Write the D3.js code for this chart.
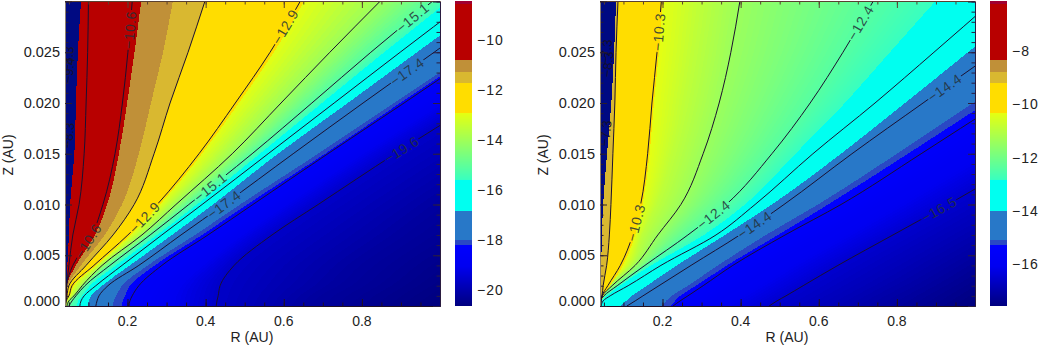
<!DOCTYPE html>
<html>
<head>
<meta charset="utf-8">
<script src="https://cdn.jsdelivr.net/npm/d3@7"></script>
<style>
  html, body { margin: 0; background: #fff; }
  text { font-family: "Liberation Sans", Arial, sans-serif; fill: #222; }
</style>
</head>
<body>
<svg id="chart" width="1040" height="346"></svg>
<script>
var zGrid = [0, 0.0005, 0.001, 0.002, 0.004, 0.007, 0.010, 0.015, 0.020, 0.025, 0.030];

// left panel: R (AU) of each level at the zGrid heights
var leftRange = [-20.64, -8.44];
var leftLevels = [-20.64, -20.2, -19.6, -19, -18.5, -18.2, -18, -17.4, -16.85, -16.3, -15.6, -15.1, -14, -12.92, -12.9, -11.74, -11.3, -10.8, -10.6, -9.4];
var leftCurves = [
  [1.00, 1.02, 1.04, 1.08, 1.16, 1.28, 1.40, 1.60, 1.80, 2.00, 2.20],
  [.667, .680, .693, .739, .795, .910, 1.013, 1.218, 1.425, 1.640, 1.845],
  [.427, .429, .432, .437, .473, .570, .688, .885, 1.092, 1.297, 1.502],
  [.309, .311, .314, .329, .386, .488, .601, .795, 1.000, 1.195, 1.399],
  [.204, .206, .212, .229, .288, .406, .521, .713, .908, 1.100, 1.294],
  [.186, .188, .194, .206, .270, .391, .506, .706, .898, 1.092, 1.287],
  [.163, .165, .171, .186, .252, .373, .488, .688, .882, 1.077, 1.271],
  [.119, .122, .127, .150, .229, .337, .447, .624, .803, .985, 1.164],
  [.099, .101, .107, .135, .206, .314, .419, .585, .764, .941, 1.120],
  [.078, .081, .089, .119, .186, .288, .391, .560, .729, .898, 1.069],
  [.071, .073, .084, .104, .171, .276, .378, .539, .698, .857, 1.020],
  [.050, .058, .068, .091, .155, .258, .357, .519, .672, .823, .980],
  [.045, .050, .063, .084, .135, .237, .324, .468, .593, .718, .846],
  [.041, .044, .052, .062, .120, .208, .283, .391, .485, .575, .652],
  [.041, .043, .050, .058, .114, .201, .276, .383, .476, .565, .642],
  [.041, .043, .045, .050, .094, .163, .217, .268, .309, .355, .398],
  [.041, .043, .044, .047, .081, .142, .186, .229, .260, .291, .316],
  [.041, .043, .044, .045, .068, .117, .148, .178, .199, .218, .235],
  [.040, .041, .043, .044, .060, .109, .137, .168, .187, .201, .212],
  [.040, .041, .041, .044, .050, .060, .076, .089, .094, .098, .100]
];
var leftStripe = [.040, .041, .043, .044, .046, .050, .053, .064, .068, .073, .081];
var leftContours = [-19.6, -18.5, -17.4, -16.3, -15.1, -14, -12.9, -11.74, -10.6, -9.4];
var leftLabelLevels = [-10.6, -10.6, -12.9, -12.9, -15.1, -15.1, -17.4, -17.4, -19.6];
var leftLabelZ = [.0272, .0064, .0275, .0087, .0284, .0117, .0231, .0100, .0154];
var leftLabelText = ["−10.6", "−10.6", "−12.9", "−12.9", "−15.1", "−15.1", "−17.4", "−17.4", "−19.6"];
var leftStrayR = [.048, .050, .049];
var leftStrayZ = [.0243, .0232, .0168];
var leftStrayText = ["−8.3", "−9.4", "−8.3"];
var leftBarTicks = [-10, -12, -14, -16, -18, -20];

// right panel
var rightRange = [-17.56, -6.14];
var rightLevels = [-17.56, -17, -16.5, -16, -15.5, -15.27, -15.09, -14.4, -14, -13.4, -12.84, -12.4, -11.9, -11.4, -10.9, -10.33, -10.3, -9.22];
var rightCurves = [
  [1.00, 1.02, 1.04, 1.08, 1.16, 1.28, 1.40, 1.60, 1.80, 2.00, 2.20],
  [.726, .749, .770, .821, .910, 1.046, 1.179, 1.397, 1.614, 1.832, 2.062],
  [.473, .493, .516, .560, .649, .790, .931, 1.154, 1.384, 1.614, 1.845],
  [.352, .373, .393, .437, .521, .660, .795, 1.013, 1.230, 1.448, 1.666],
  [.227, .245, .265, .304, .380, .514, .657, .862, 1.064, 1.269, 1.474],
  [.222, .232, .245, .286, .365, .496, .624, .828, 1.028, 1.218, 1.422],
  [.199, .209, .224, .265, .342, .465, .598, .800, .995, 1.192, 1.384],
  [.109, .130, .150, .191, .273, .398, .511, .685, .867, 1.051, 1.243],
  [.091, .107, .122, .160, .237, .360, .480, .657, .821, .982, 1.141],
  [.043, .048, .066, .112, .196, .337, .437, .585, .744, .895, 1.044],
  [.043, .045, .058, .091, .171, .306, .411, .540, .667, .782, .898],
  [.040, .041, .050, .084, .155, .265, .363, .480, .578, .662, .739],
  [.041, .043, .048, .078, .148, .224, .301, .393, .462, .521, .565],
  [.041, .043, .046, .071, .130, .188, .247, .304, .345, .375, .398],
  [.042, .044, .050, .061, .117, .148, .186, .227, .258, .281, .299],
  [.041, .044, .048, .066, .099, .130, .149, .167, .178, .191, .201],
  [.041, .043, .045, .060, .092, .124, .144, .162, .173, .186, .197],
  [.040, .041, .045, .048, .057, .064, .068, .073, .078, .081, .086]
];
var rightStripe = [.040, .040, .041, .041, .043, .045, .048, .058, .069, .076, .081];
var rightContours = [-16.5, -15.5, -14.4, -13.4, -12.4, -11.4, -10.3, -9.22];
var rightLabelLevels = [-10.3, -10.3, -12.4, -12.4, -14.4, -14.4, -16.5];
var rightLabelZ = [.027, .0082, .0279, .009, .0215, .008, .0095];
var rightLabelText = ["−10.3", "−10.3", "−12.4", "−12.4", "−14.4", "−14.4", "−16.5"];
var rightStrayR = [.056, .060, .054];
var rightStrayZ = [.0250, .0238, .0170];
var rightStrayText = ["−7.3", "−8.3", "−7.3"];
var rightBarTicks = [-8, -10, -12, -14, -16];

// shared colour table, position along the bar 0..1
var bandEdges = [0.13, 0.2, 0.216, 0.311, 0.413, 0.633, 0.73, 0.766, 0.807, 0.99];
var bandLow = ["#00007f", "#0000f0", "#2a48c4", "#2878c8", "#00fff0", "#38ffc0", "#ffdd00", "#d9b830", "#c09038", "#b80000", "#a00030"];
var bandHigh = ["#0000f0", "#0000ff", "#2a48c4", "#2878c8", "#00fff0", "#e6ff10", "#ffdd00", "#d9b830", "#c09038", "#b80000", "#a00030"];

var rTicks = [0.2, 0.4, 0.6, 0.8];
var rMinor = d3.range(0.05, 1.0, 0.05);
var zTicks = [0, 0.005, 0.010, 0.015, 0.020, 0.025];
var zMinor = d3.range(0, 0.0305, 0.001);

var svg = d3.select('#chart');
var top_y = 1, bottom_y = 306;
var shadeSteps = 10;

function drawPanel(id, left, barLeft, range, levels, curves, stripe, contours, labelLevels, labelZ, labelText, strayR, strayZ, strayText, barTicks){
  var width = 375;
  var x = d3.scaleLinear().domain([0.04, 1.0]).range([left, left + width]);
  var y = d3.scaleLinear().domain([0, 0.03]).range([bottom_y, 1.5]);
  var tOf = d3.scaleLinear().domain(range).range([0, 1]);

  var colorAt = function(value){
    var t = tOf(value);
    var band = d3.bisect(bandEdges, t);
    var lo = band === 0 ? 0 : bandEdges[band - 1];
    var hi = band === bandEdges.length ? 1 : bandEdges[band];
    return d3.interpolateRgb(bandLow[band], bandHigh[band])((t - lo) / (hi - lo));
  };

  var line = d3.line()
    .x(function(d){ return x(d[0]); })
    .y(function(d){ return y(d[1]); })
    .curve(d3.curveMonotoneY);

  var toPoints = function(rs){
    return rs.map(function(r, i){ return [r, zGrid[i]]; });
  };
  // everything up and to the left of a curve
  var region = function(rs){
    return line(toPoints(rs)) + 'L' + x(0.03) + ',' + y(0.03) + 'L' + x(0.03) + ',' + y(0) + 'Z';
  };

  svg.append('clipPath').attr('id', id + '-clip')
    .append('rect').attr('x', left).attr('y', top_y).attr('width', width).attr('height', bottom_y - top_y);

  var field = svg.append('g').attr('clip-path', 'url(#' + id + '-clip)').attr('shape-rendering', 'crispEdges');
  field.append('rect')
    .attr('x', left).attr('y', top_y).attr('width', width).attr('height', bottom_y - top_y)
    .attr('fill', colorAt(range[0]));

  // paint from the lower right upwards, shading between curves where the table is a ramp
  var eps = 0.01;
  levels.forEach(function(level, i){
    var next = levels[i + 1];
    var steps = next !== undefined && colorAt(level + eps) !== colorAt(next - eps) ? shadeSteps : 1;
    var nextCurve = next !== undefined ? curves[i + 1] : curves[i];
    var tween = d3.interpolateNumberArray(curves[i], nextCurve);
    d3.range(steps).forEach(function(k){
      var f = k / steps;
      var value = next !== undefined ? level + (next - level) * f : level;
      field.append('path').attr('d', region(Array.from(tween(f)))).attr('fill', colorAt(value + eps));
    });
  });
  field.append('path').attr('d', region(stripe)).attr('fill', '#000a82');

  // contour labels sit in gaps cut out of the lines
  var labels = labelLevels.map(function(level, i){
    var rs = curves[levels.indexOf(level)];
    var j = Math.min(d3.bisect(zGrid, labelZ[i]), zGrid.length - 1);
    var f = (labelZ[i] - zGrid[j - 1]) / (zGrid[j] - zGrid[j - 1]);
    var r = rs[j - 1] + (rs[j] - rs[j - 1]) * f;
    var angle = Math.atan2(y(zGrid[j]) - y(zGrid[j - 1]), x(rs[j]) - x(rs[j - 1])) * 180 / Math.PI;
    return { px: x(r), py: y(labelZ[i]), angle: angle, text: labelText[i] };
  });

  var mask = svg.append('mask').attr('id', id + '-mask')
    .attr('maskUnits', 'userSpaceOnUse')
    .attr('x', 0).attr('y', 0).attr('width', 1040).attr('height', 346);
  mask.append('rect').attr('x', 0).attr('y', 0).attr('width', 1040).attr('height', 346).attr('fill', '#fff');
  mask.selectAll('rect.gap').data(labels).enter().append('rect')
    .attr('class', 'gap')
    .attr('x', -20).attr('y', -6).attr('width', 40).attr('height', 12)
    .attr('fill', '#000')
    .attr('transform', function(d){ return 'translate(' + d.px + ',' + d.py + ') rotate(' + d.angle + ')'; });

  var lineLayer = svg.append('g').attr('clip-path', 'url(#' + id + '-clip)');
  lineLayer.append('g').attr('mask', 'url(#' + id + '-mask)')
    .selectAll('path').data(contours).enter().append('path')
    .attr('d', function(level){ return line(toPoints(curves[levels.indexOf(level)])); })
    .attr('fill', 'none')
    .attr('stroke', '#1c1030')
    .attr('stroke-width', 1);

  lineLayer.selectAll('text.contour').data(labels).enter().append('text')
    .attr('class', 'contour')
    .attr('transform', function(d){ return 'translate(' + d.px + ',' + d.py + ') rotate(' + d.angle + ')'; })
    .attr('text-anchor', 'middle')
    .attr('dy', '0.36em')
    .attr('font-size', 14)
    .attr('letter-spacing', 0.5)
    .style('fill', '#243038')
    .attr('fill-opacity', 0.85)
    .text(function(d){ return d.text; });

  lineLayer.selectAll('text.stray').data(strayText).enter().append('text')
    .attr('class', 'stray')
    .attr('transform', function(d, i){ return 'translate(' + x(strayR[i]) + ',' + y(strayZ[i]) + ') rotate(-84)'; })
    .attr('text-anchor', 'middle')
    .attr('dy', '0.36em')
    .attr('font-size', 13)
    .style('fill', '#141030')
    .text(function(d){ return d; });

  // axes, long and short ticks on all four sides
  var noLabel = function(axis){ return axis.tickFormat(''); };
  var styleAxis = function(g, color){
    g.selectAll('path,line').attr('stroke', color).attr('stroke-width', 1);
    g.select('.domain').attr('stroke-width', 1);
  };
  var rMajor = rTicks, zMajor = d3.range(0, 0.0305, 0.005);
  svg.append('g').attr('transform', 'translate(0,' + bottom_y + ')')
    .call(noLabel(d3.axisBottom(x).tickValues(rMinor).tickSize(-3.5).tickSizeOuter(0))).call(styleAxis, '#201024');
  svg.append('g').attr('transform', 'translate(0,' + bottom_y + ')')
    .call(noLabel(d3.axisBottom(x).tickValues(rMajor).tickSize(-7).tickSizeOuter(0))).call(styleAxis, '#201024');
  svg.append('g').attr('transform', 'translate(0,' + top_y + ')')
    .call(noLabel(d3.axisTop(x).tickValues(rMinor).tickSize(-3.5).tickSizeOuter(0))).call(styleAxis, '#5a4030');
  svg.append('g').attr('transform', 'translate(0,' + top_y + ')')
    .call(noLabel(d3.axisTop(x).tickValues(rMajor).tickSize(-7).tickSizeOuter(0))).call(styleAxis, '#5a4030');
  svg.append('g').attr('transform', 'translate(' + left + ',0)')
    .call(noLabel(d3.axisLeft(y).tickValues(zMinor).tickSize(-3.5).tickSizeOuter(0))).call(styleAxis, '#2a1c30');
  svg.append('g').attr('transform', 'translate(' + left + ',0)')
    .call(noLabel(d3.axisLeft(y).tickValues(zMajor).tickSize(-7).tickSizeOuter(0))).call(styleAxis, '#2a1c30')
    .select('.domain').attr('stroke', '#8a7f70');
  svg.append('g').attr('transform', 'translate(' + (left + width) + ',0)')
    .call(noLabel(d3.axisRight(y).tickValues(zMinor).tickSize(-3.5).tickSizeOuter(0))).call(styleAxis, '#2a1c40');
  svg.append('g').attr('transform', 'translate(' + (left + width) + ',0)')
    .call(noLabel(d3.axisRight(y).tickValues(zMajor).tickSize(-7).tickSizeOuter(0))).call(styleAxis, '#2a1c40');

  // tick labels
  svg.selectAll('text.r-' + id).data(rTicks).enter().append('text')
    .attr('class', 'r-' + id)
    .attr('x', function(d){ return x(d); })
    .attr('y', 326)
    .attr('text-anchor', 'middle')
    .attr('font-size', 14)
    .text(d3.format('.1f'));
  svg.selectAll('text.z-' + id).data(zTicks).enter().append('text')
    .attr('class', 'z-' + id)
    .attr('x', left - 5)
    .attr('y', function(d){ return d === 0 ? y(d) - 5 : y(d); })
    .attr('dy', '0.36em')
    .attr('text-anchor', 'end')
    .attr('font-size', 14.5)
    .text(d3.format('.3f'));
  svg.append('text')
    .attr('x', left + 187).attr('y', 342)
    .attr('text-anchor', 'middle').attr('font-size', 14)
    .text('R (AU)');
  svg.append('text')
    .attr('transform', 'translate(' + (left - 52) + ',155) rotate(-90)')
    .attr('text-anchor', 'middle').attr('font-size', 14)
    .text('Z (AU)');

  // colour bar
  var barY = d3.scaleLinear().domain(range).range([bottom_y, top_y]);
  var rows = d3.range(top_y, bottom_y);
  svg.append('g').attr('shape-rendering', 'crispEdges')
    .selectAll('rect').data(rows).enter().append('rect')
    .attr('x', barLeft).attr('width', 17)
    .attr('y', function(d){ return d; }).attr('height', 1)
    .attr('fill', function(d){ return colorAt(barY.invert(d + 0.5)); });
  svg.selectAll('text.bar-' + id).data(barTicks).enter().append('text')
    .attr('class', 'bar-' + id)
    .attr('x', barLeft + 22)
    .attr('y', function(d){ return barY(d); })
    .attr('dy', '0.36em')
    .attr('font-size', 14)
    .attr('letter-spacing', 1)
    .text(function(d){ return '−' + Math.abs(d); });
}

drawPanel('left', 65, 455, leftRange, leftLevels, leftCurves, leftStripe, leftContours, leftLabelLevels, leftLabelZ, leftLabelText, leftStrayR, leftStrayZ, leftStrayText, leftBarTicks);
drawPanel('right', 600, 990, rightRange, rightLevels, rightCurves, rightStripe, rightContours, rightLabelLevels, rightLabelZ, rightLabelText, rightStrayR, rightStrayZ, rightStrayText, rightBarTicks);
</script>
</body>
</html>
